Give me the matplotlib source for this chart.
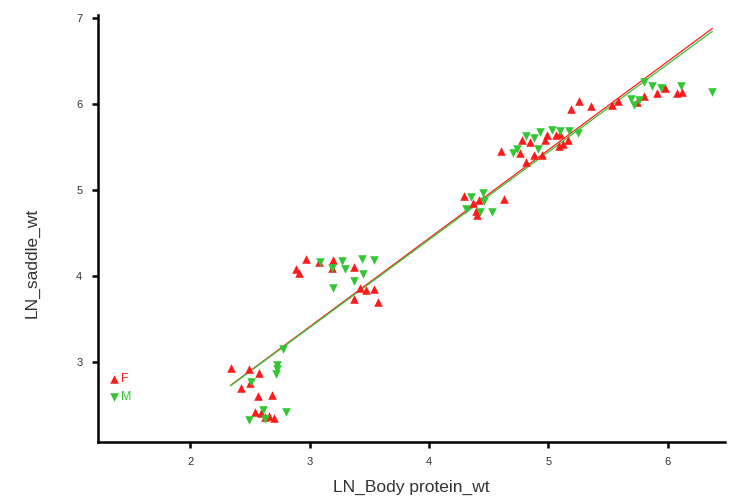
import numpy as np
import matplotlib.pyplot as plt

plt.rcParams['font.family'] = ['Liberation Sans', 'DejaVu Sans']

# female (F) points: LN_Body protein_wt vs LN_saddle_wt
f_x = [2.34, 2.49, 2.58, 2.50, 2.43, 2.57, 2.69, 2.54, 2.59, 2.66, 2.70, 2.63,
       2.97, 3.08, 3.20, 2.89, 2.91, 3.19, 3.37, 3.42, 3.47, 3.54, 3.37, 3.57,
       4.29, 4.37, 4.42, 4.39, 4.40, 4.63,
       4.60, 4.76, 4.81, 4.88, 4.95, 4.78, 4.85, 4.97, 4.99, 5.10, 5.12, 5.16, 5.06, 5.09,
       5.19, 5.26, 5.36, 5.53, 5.58, 5.74, 5.80, 5.91, 5.98, 6.08, 6.12]
f_y = [2.94, 2.92, 2.88, 2.76, 2.70, 2.61, 2.62, 2.43, 2.41, 2.38, 2.36, 2.37,
       4.20, 4.16, 4.19, 4.08, 4.04, 4.10, 4.11, 3.86, 3.84, 3.85, 3.74, 3.70,
       4.93, 4.85, 4.88, 4.76, 4.71, 4.90,
       5.45, 5.43, 5.33, 5.41, 5.41, 5.58, 5.56, 5.58, 5.64, 5.65, 5.53, 5.58, 5.64, 5.51,
       5.94, 6.03, 5.97, 5.99, 6.03, 6.02, 6.09, 6.12, 6.18, 6.12, 6.14]

# male (M) points
m_x = [2.78, 2.73, 2.73, 2.72, 2.51, 2.61, 2.80, 2.49, 2.63,
       3.09, 3.27, 3.44, 3.54, 3.19, 3.30, 3.45, 3.37, 3.20,
       4.35, 4.45, 4.46, 4.31, 4.43, 4.53,
       4.70, 4.74, 4.81, 4.88, 4.93, 5.03, 5.10, 5.25, 4.91, 5.17,
       5.80, 5.87, 5.94, 6.11, 6.37, 5.69, 5.72, 5.76]
m_y = [3.16, 2.97, 2.92, 2.87, 2.77, 2.45, 2.42, 2.33, 2.34,
       4.17, 4.18, 4.20, 4.19, 4.10, 4.08, 4.02, 3.94, 3.86,
       4.92, 4.97, 4.87, 4.78, 4.74, 4.75,
       5.43, 5.47, 5.63, 5.60, 5.67, 5.70, 5.68, 5.66, 5.48, 5.68,
       6.25, 6.21, 6.18, 6.21, 6.14, 6.05, 5.99, 6.04]

red = '#ff1a1a'
green = '#33c633'

fig = plt.figure(figsize=(7.34, 4.98), dpi=100)
ax = fig.add_axes([0.133, 0.113, 0.855, 0.857])

ax.scatter(f_x, f_y, marker='^', s=38, color=red, linewidths=0, label='F', zorder=3)
ax.scatter(m_x, m_y, marker='v', s=38, color=green, linewidths=0, label='M', zorder=3)

# least squares lines over the whole x range
xs = np.array([min(f_x + m_x), max(f_x + m_x)])
for x, y, c in [(f_x, f_y, red), (m_x, m_y, green)]:
    b, a = np.polyfit(x, y, 1)
    ax.plot(xs, a + b * xs, color=c, lw=0.9, zorder=2)

ax.set_xlim(1.226, 6.48)
ax.set_ylim(2.08, 7.03)
ax.set_xticks([2, 3, 4, 5, 6])
ax.set_yticks([3, 4, 5, 6, 7])
for s in ['top', 'right']:
    ax.spines[s].set_visible(False)
for s in ['left', 'bottom']:
    ax.spines[s].set_linewidth(1.8)
ax.tick_params(direction='out', length=4, width=1.8, labelsize=8, labelcolor='#333333', pad=7)

ax.set_xlabel('LN_Body protein_wt', fontsize=12.5, color='#333333')
ax.set_ylabel('LN_saddle_wt', fontsize=12.5, color='#333333')
ax.xaxis.set_label_coords(0.5, -0.09)
ax.yaxis.set_label_coords(-0.092, 0.42)

leg = ax.legend(loc='lower left', bbox_to_anchor=(0.0, 0.07), frameon=False, fontsize=9,
                handletextpad=0.0, labelspacing=0.45, borderaxespad=0.3, handlelength=1.2,
                markerscale=1.0)
for t, c in zip(leg.get_texts(), [red, green]):
    t.set_color(c)

plt.savefig('out.png')
